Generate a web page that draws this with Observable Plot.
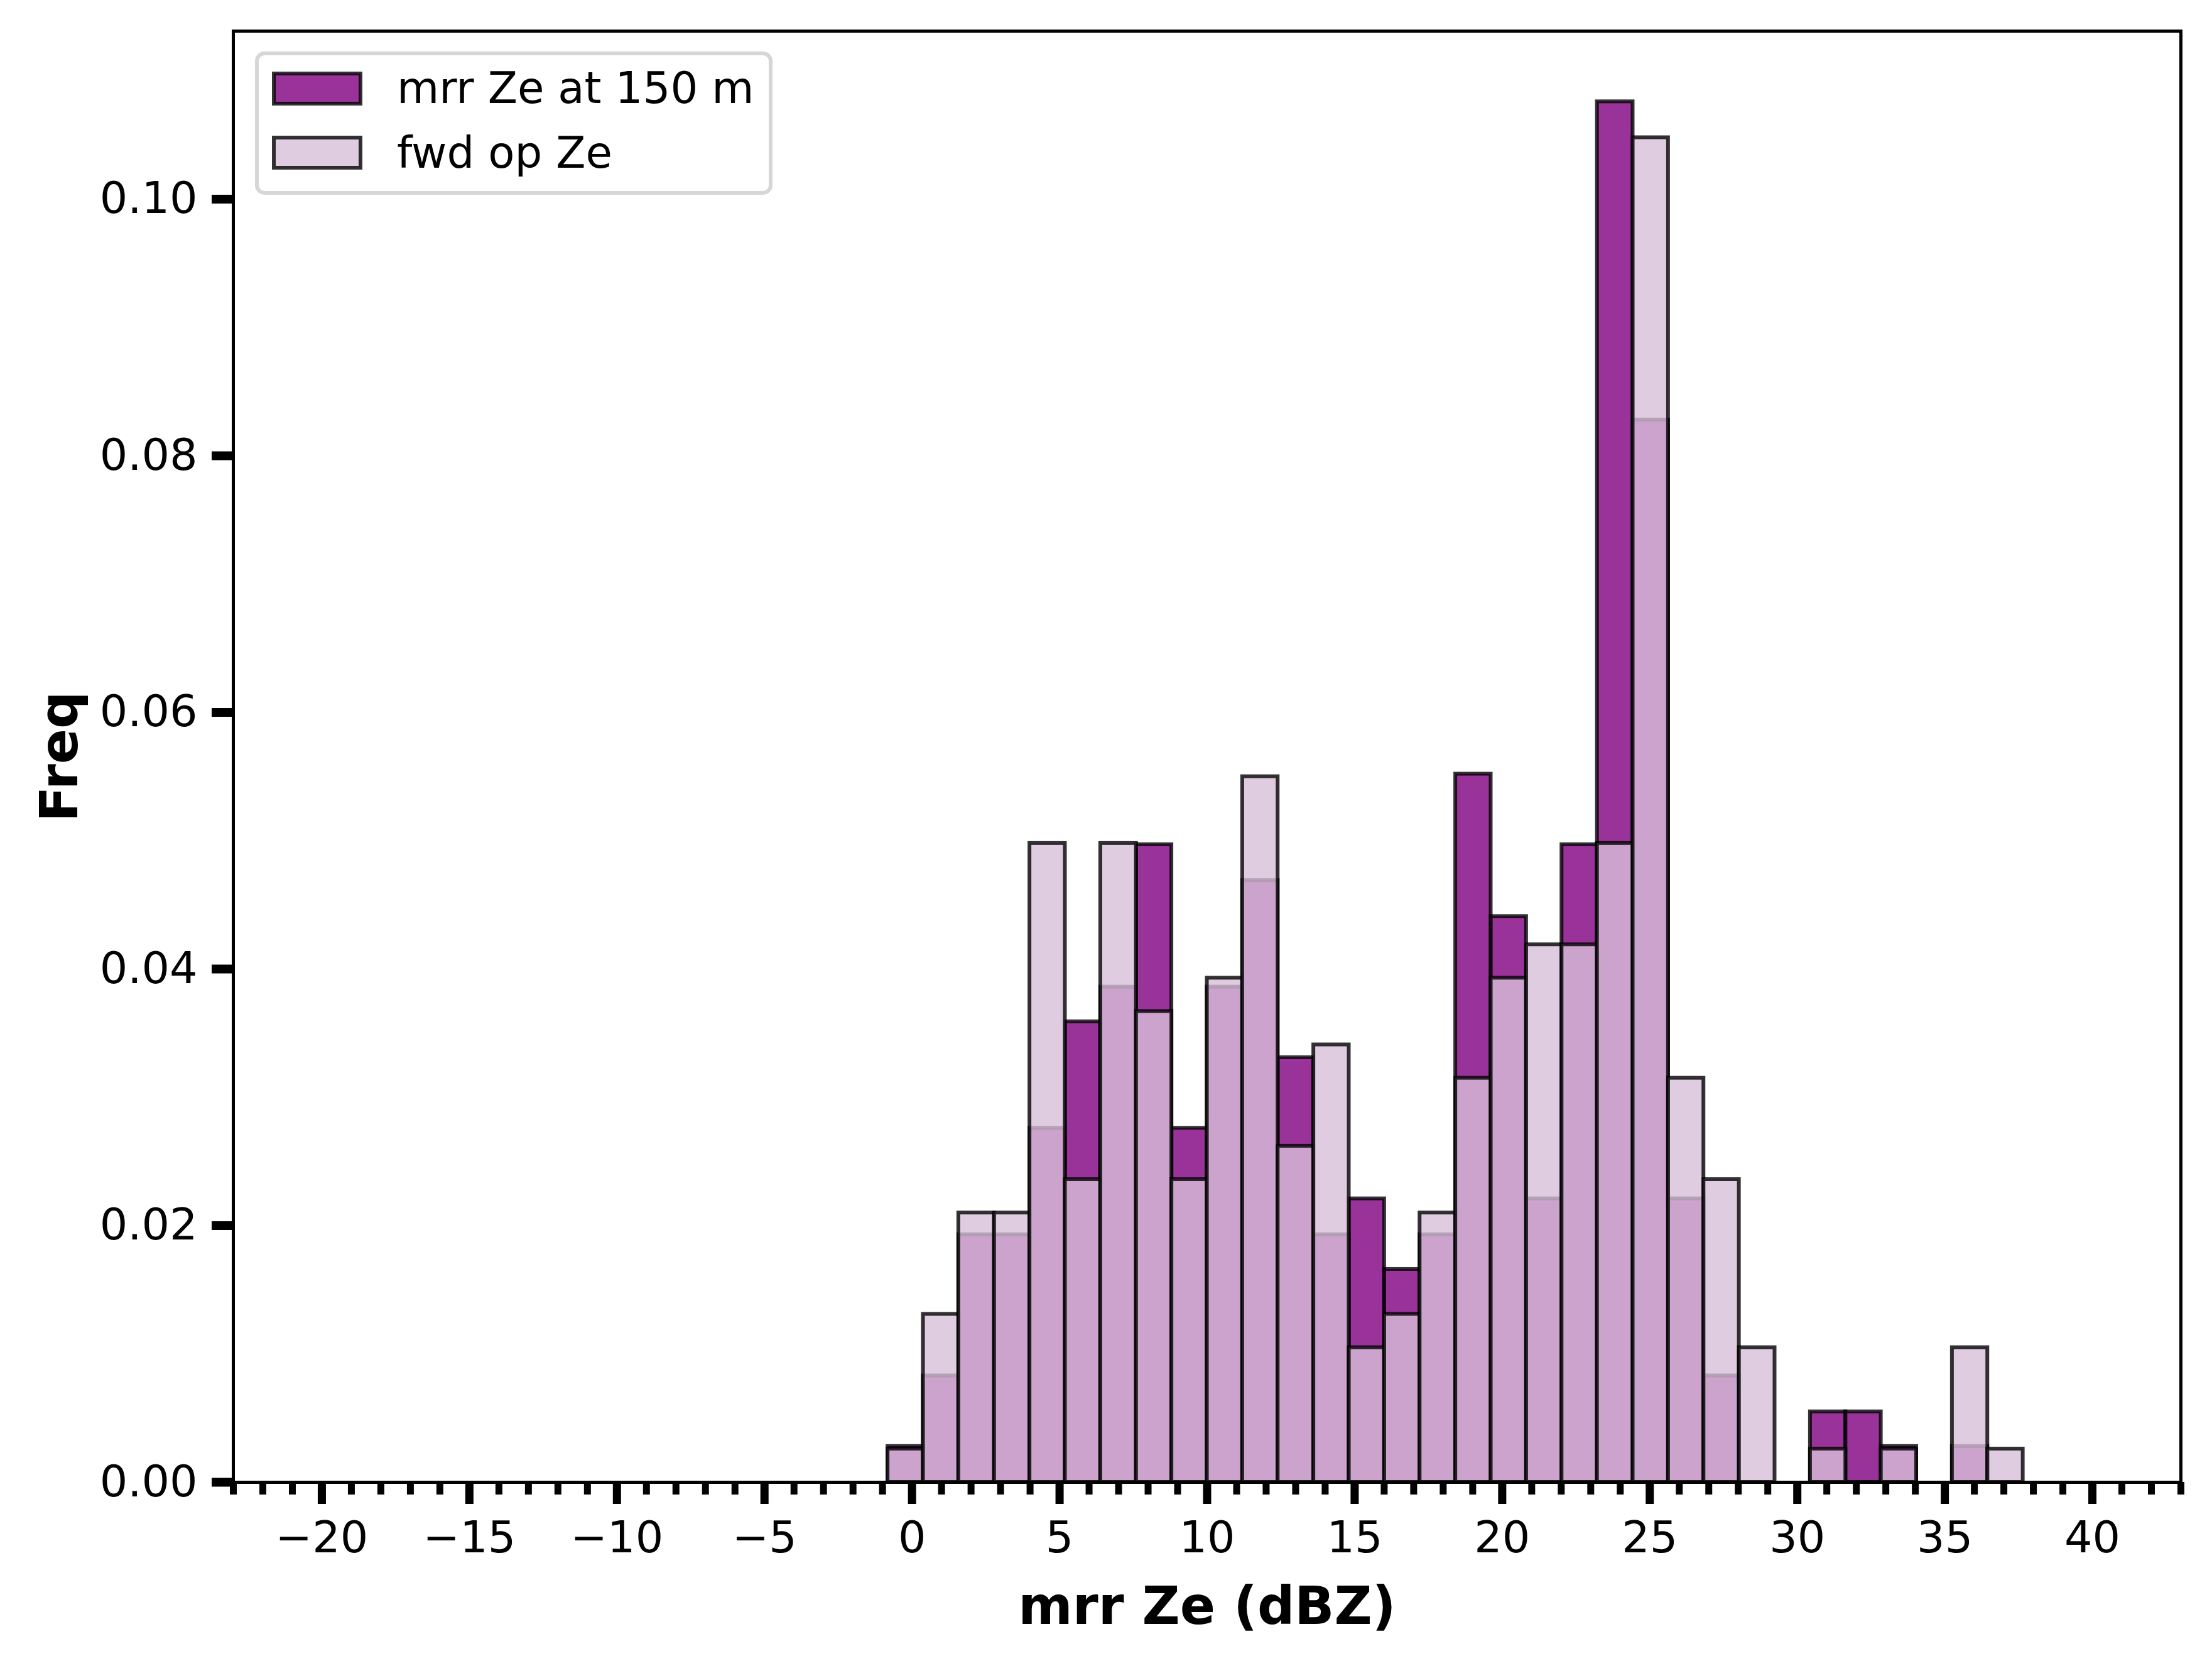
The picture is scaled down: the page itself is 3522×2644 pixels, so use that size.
<!DOCTYPE html>
<html><head><meta charset="utf-8">
<script src="https://cdn.jsdelivr.net/npm/d3@7"></script>
<script src="https://cdn.jsdelivr.net/npm/@observablehq/plot@0.6"></script>
<style>
html,body{margin:0;padding:0;background:#fff;overflow:hidden;}
#wrap{position:relative;width:3522px;height:2644px;}
</style></head><body><div id="wrap"></div>
<script>
// Histogram bin edges (dBZ)
const binEdges = [-0.82, 0.38, 1.58, 2.79, 3.99, 5.19, 6.39, 7.60, 8.80, 10.00, 11.20, 12.40, 13.61, 14.81, 16.01, 17.21, 18.42, 19.62, 20.82, 22.02, 23.22, 24.43, 25.63, 26.83, 28.03, 29.24, 30.44, 31.64, 32.84, 34.04, 35.25, 36.45, 37.65];
// Density per bin, "mrr Ze at 150 m"
const mrrDensity = [0.0028, 0.0083, 0.0193, 0.0193, 0.0276, 0.0359, 0.0386, 0.0497, 0.0276, 0.0386, 0.0469, 0.0331, 0.0193, 0.0221, 0.0166, 0.0193, 0.0552, 0.0441, 0.0221, 0.0497, 0.1076, 0.0828, 0.0221, 0.0083, 0, 0, 0.0055, 0.0055, 0.0028, 0, 0.0028, 0];
// Density per bin, "fwd op Ze"
const fwdDensity = [0.0026, 0.0131, 0.0210, 0.0210, 0.0498, 0.0236, 0.0498, 0.0367, 0.0236, 0.0393, 0.0550, 0.0262, 0.0341, 0.0105, 0.0131, 0.0210, 0.0315, 0.0393, 0.0419, 0.0419, 0.0498, 0.1048, 0.0315, 0.0236, 0.0105, 0, 0.0026, 0, 0.0026, 0, 0.0105, 0.0026];
const seriesNames = ["mrr Ze at 150 m", "fwd op Ze"];
const seriesFill = ["purple", "thistle"];
const xMajorTicks = [-20, -15, -10, -5, 0, 5, 10, 15, 20, 25, 30, 35, 40];
const xMinorTicks = d3.range(-23, 44).filter(v => v % 5 !== 0);
const yTicks = [0, 0.02, 0.04, 0.06, 0.08, 0.10];
const xLabel = "mrr Ze (dBZ)";
const yLabel = "Freq";

function binsOf(vals) {
  return vals.map((v, i) => ({x1: binEdges[i], x2: binEdges[i + 1], y: v})).filter(d => d.y > 0);
}

const barStyle = {x1: "x1", x2: "x2", y1: 0, y2: "y", fillOpacity: 0.8, stroke: "black", strokeOpacity: 0.8, strokeWidth: 6};

const chart = Plot.plot({
  width: 3522, height: 2644,
  marginLeft: 371, marginRight: 50, marginTop: 49, marginBottom: 285,
  style: {fontFamily: "DejaVu Sans", background: "white", overflow: "visible"},
  x: {domain: [-23, 43]},
  y: {domain: [0, 0.1131]},
  marks: [
    Plot.rect(binsOf(mrrDensity), {...barStyle, fill: seriesFill[0]}),
    Plot.rect(binsOf(fwdDensity), {...barStyle, fill: seriesFill[1]}),
    Plot.axisX(xMinorTicks, {tickSize: 20, strokeWidth: 11, fill: "none", label: null}),
    Plot.axisX(xMajorTicks, {tickSize: 35, strokeWidth: 13, tickPadding: 27, tickFormat: d3.format("d"), fontSize: 70, label: null}),
    Plot.axisY(yTicks, {tickSize: 34, strokeWidth: 14, tickPadding: 23, tickFormat: d3.format(".2f"), fontSize: 70, label: null}),
    Plot.frame({stroke: "black", strokeWidth: 5}),
    Plot.text([xLabel], {text: d => d, frameAnchor: "bottom", dy: 225, lineAnchor: "bottom", textAnchor: "middle", fontWeight: "bold", fontSize: 83}),
    Plot.text([yLabel], {text: d => d, frameAnchor: "left", dx: -249, rotate: -90, lineAnchor: "bottom", textAnchor: "middle", fontWeight: "bold", fontSize: 83})
  ]
});
document.getElementById("wrap").appendChild(chart);

// Legend overlay
const lg = d3.select("#wrap").append("svg")
  .attr("width", 1300).attr("height", 400)
  .style("position", "absolute").style("left", "0px").style("top", "0px")
  .style("font-family", "DejaVu Sans");
lg.append("rect").attr("x", 409).attr("y", 85).attr("width", 818).attr("height", 222).attr("rx", 12)
  .attr("fill", "white").attr("fill-opacity", 0.8)
  .attr("stroke", "#cccccc").attr("stroke-opacity", 0.8).attr("stroke-width", 6);
const rowY = [117, 219];
const textY = [164, 267];
seriesNames.forEach((name, i) => {
  lg.append("rect").attr("x", 436).attr("y", rowY[i]).attr("width", 138).attr("height", 48)
    .attr("fill", seriesFill[i]).attr("fill-opacity", 0.8)
    .attr("stroke", "black").attr("stroke-opacity", 0.8).attr("stroke-width", 6);
  lg.append("text").attr("x", 632).attr("y", textY[i]).attr("font-size", 69).attr("fill", "black").text(name);
});
</script>
</body></html>
